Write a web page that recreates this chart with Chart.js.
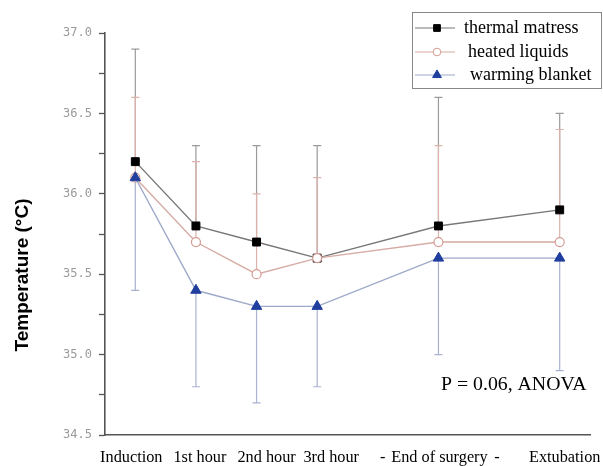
<!DOCTYPE html>
<html><head><meta charset="utf-8">
<script src="https://cdn.jsdelivr.net/npm/chart.js@4"></script>
<style>html,body{margin:0;padding:0;background:#fff;}#wrap{width:603px;height:466px;position:relative;}</style>
</head><body><div id="wrap"><canvas id="c" width="603" height="466"></canvas></div>
<script>
const categories = ['Induction','1st hour','2nd hour','3rd hour','-','End of surgery','-','Extubation'];
const thermal   = [36.2, 35.8, 35.7, 35.6, null, 35.8, null, 35.9];
const thermalHi = [36.9, 36.3, 36.3, 36.3, null, 36.6, null, 36.5];
const heated    = [36.1, 35.7, 35.5, 35.6, null, 35.7, null, 35.7];
const heatedHi  = [36.6, 36.2, 36.0, 36.1, null, 36.3, null, 36.4];
const blanket   = [36.1, 35.4, 35.3, 35.3, null, 35.6, null, 35.6];
const blanketLo = [35.4, 34.8, 34.7, 34.8, null, 35.0, null, 34.9];
const seriesNames = ['thermal matress','heated liquids','warming blanket'];
const yMin = 34.5, yMax = 37.0;

// styling: small horizontal nudges of x tick labels as in the original figure (px)
const labelNudge = [-4, 4, 10, 14, 5, 1, -2, 5];

const C_BLK_LINE = '#777777', C_PINK = '#d6aba3', C_BLUE_LINE = '#9ea9c9', C_BLUE = '#1f3e9e';

const errBars = [
  {data: thermal, end: thermalHi, color: '#9a9a9a'},
  {data: blanket, end: blanketLo, color: '#a9b2cf'},
  {data: heated, end: heatedHi, color: '#dcb3ab'}
];

const extras = {
  id: 'extras',
  beforeDraw(chart) {
    const sx = chart.scales.x;
    if (sx && sx.getLabelItems && !sx._nudged) {
      const items = sx.getLabelItems();
      items.forEach((it, i) => {
        if (it.options && it.options.translation) it.options.translation[0] += (labelNudge[i] || 0);
      });
      sx._nudged = true;
    }
  },
  beforeDatasetsDraw(chart) {
    const ctx = chart.ctx, x = chart.scales.x, y = chart.scales.y;
    ctx.save();
    ctx.lineWidth = 1.2;
    errBars.forEach(e => {
      ctx.strokeStyle = e.color;
      e.data.forEach((v, i) => {
        if (v == null) return;
        const px = x.getPixelForValue(i), p0 = y.getPixelForValue(v), p1 = y.getPixelForValue(e.end[i]);
        ctx.beginPath();
        ctx.moveTo(px, p0); ctx.lineTo(px, p1);
        ctx.moveTo(px - 4, p1); ctx.lineTo(px + 4, p1);
        ctx.stroke();
      });
    });
    ctx.restore();
  },
  afterDraw(chart) {
    const ctx = chart.ctx;
    ctx.save();
    ctx.translate(23, 275);
    ctx.rotate(-Math.PI / 2);
    ctx.font = 'bold 19px "Liberation Sans", Arial, sans-serif';
    ctx.fillStyle = '#000';
    ctx.textAlign = 'center';
    ctx.textBaseline = 'middle';
    ctx.fillText('Temperature (\u00B0C)', 0, 0);
    ctx.restore();

    ctx.save();
    ctx.font = '19.8px "Liberation Serif", "Times New Roman", serif';
    ctx.fillStyle = '#000';
    ctx.textBaseline = 'alphabetic';
    ctx.fillText('P = 0.06, ANOVA', 441, 390);
    ctx.restore();

    ctx.save();
    ctx.strokeStyle = '#888';
    ctx.lineWidth = 1;
    ctx.strokeRect(412.5, 12.5, 189, 76);
    const rows = [28, 52, 75];
    const ds = chart.data.datasets;
    const textX = [464, 468, 470];
    ds.forEach((d, k) => {
      const yy = rows[k];
      ctx.strokeStyle = d.borderColor;
      ctx.lineWidth = 1.2;
      ctx.beginPath(); ctx.moveTo(415, yy); ctx.lineTo(455, yy); ctx.stroke();
      ctx.fillStyle = d.pointBackgroundColor;
      ctx.strokeStyle = d.pointBorderColor;
      ctx.lineWidth = 1;
      Chart.helpers.drawPoint(ctx, {pointStyle: d.pointStyle, radius: d.pointRadius * 0.85, borderWidth: 1}, 437, yy);
      ctx.fillStyle = '#000';
      ctx.font = '18px "Liberation Serif", "Times New Roman", serif';
      ctx.textBaseline = 'middle';
      ctx.fillText(d.label, textX[k], yy);
    });
    ctx.restore();
  }
};

new Chart(document.getElementById('c'), {
  type: 'line',
  data: {
    labels: categories,
    datasets: [
      {label: seriesNames[0], data: thermal, order: 3, borderColor: C_BLK_LINE, borderWidth: 1.4,
       pointStyle: 'rect', pointRadius: 5.6, pointBackgroundColor: '#000', pointBorderColor: '#000', pointBorderWidth: 1, spanGaps: true},
      {label: seriesNames[1], data: heated, order: 2, borderColor: C_PINK, borderWidth: 1.4,
       pointStyle: 'circle', pointRadius: 4.5, pointBackgroundColor: '#fff', pointBorderColor: '#d39b92', pointBorderWidth: 1.2, spanGaps: true},
      {label: seriesNames[2], data: blanket, order: 1, borderColor: C_BLUE_LINE, borderWidth: 1.4,
       pointStyle: 'triangle', pointRadius: 6, pointBackgroundColor: C_BLUE, pointBorderColor: C_BLUE, pointBorderWidth: 1, spanGaps: true}
    ]
  },
  options: {
    responsive: false,
    animation: false,
    devicePixelRatio: 1,
    layout: {padding: {top: 33, right: 13, left: 0, bottom: 0}},
    plugins: {legend: {display: false}, tooltip: {enabled: false}},
    elements: {line: {tension: 0}},
    scales: {
      x: {
        type: 'category',
        offset: true,
        grid: {display: false, drawOnChartArea: false, drawTicks: true, tickLength: 8, tickColor: '#555', tickWidth: 1.3},
        border: {display: true, color: '#555', width: 1.6},
        ticks: {color: '#000', font: {family: '"Liberation Serif", "Times New Roman", serif', size: 16.3}, padding: 5, autoSkip: false, maxRotation: 0},
        afterFit(s) { s.height = 31; }
      },
      y: {
        min: yMin, max: yMax,
        grid: {drawOnChartArea: false, drawTicks: true, tickLength: 6, tickColor: '#555', tickWidth: 1.3},
        border: {display: true, color: '#555', width: 1.6},
        ticks: {
          stepSize: 0.25,
          color: '#9a9a9a',
          font: {family: '"DejaVu Sans Mono", monospace', size: 12},
          padding: 7,
          callback(v) { return Math.abs(v * 2 - Math.round(v * 2)) < 1e-6 ? v.toFixed(1) : ''; }
        },
        afterFit(s) { s.width = 105; }
      }
    }
  },
  plugins: [extras]
});
</script></body></html>
